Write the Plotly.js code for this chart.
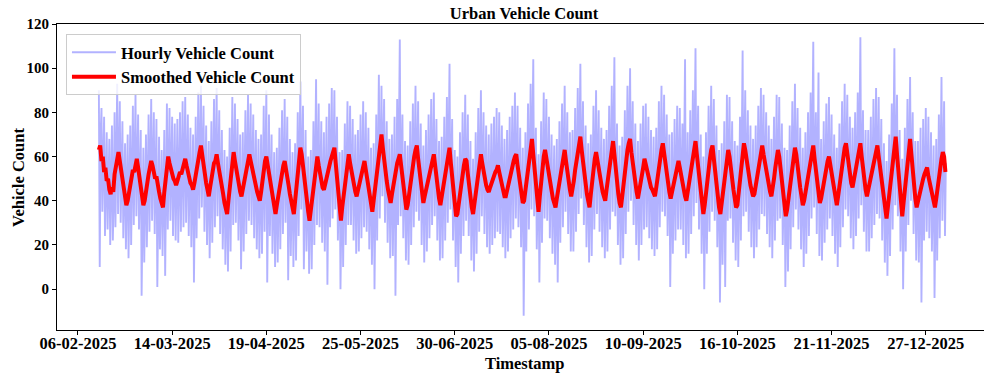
<!DOCTYPE html>
<html>
<head>
<meta charset="utf-8">
<script src="https://cdn.plot.ly/plotly-3.0.1.min.js"></script>
<style>
html,body{margin:0;padding:0;overflow:hidden;background:#ffffff;}
#chart{width:992px;height:376px;}
</style>
</head>
<body>
<div id="chart"></div>
<script>
// ---- data ----
const seriesStart = '2025-02-14';   // first timestamp of both series
const hourlyStepHours = 8;          // spacing of the hourly-count samples kept below
const smoothStepHours = 12;         // spacing of the smoothed samples kept below

const hourlyCounts = [
 90,10,70, 82,35,66, 78,24,60, 71,27,55, 68,20,50, 74,22,41, 80,28,58, 93,34,63,
 85,30,52, 76,23,57, 66,18,48, 70,14,45, 74,20,53, 83,29,50, 88,33,64, 79,27,60,
 72,-3,51, 64,12,44, 70,19,40, 79,26,57, 86,31,62, 80,25,48, 77,1,55, 69,18,49,
 63,15,46, 72,6,50, 84,27,60, 82,31,63, 78,24,47, 75,22,55, 77,21,52, 80,26,58,
 85,28,50, 87,30,64, 79,24,58, 73,19,53, 70,3,49, 78,23,57, 89,32,55, 92,37,70,
 83,26,61, 74,20,52, 67,14,47, 76,21,56, 86,28,51, 91,33,66, 81,25,59, 72,18,50,
 63,11,44, 60,8,39, 73,17,52, 87,29,62, 84,30,53, 77,22,56, 70,9,49, 71,17,50,
 81,25,58, 88,31,64, 84,29,52, 79,23,57, 72,18,51, 68,14,47, 70,16,49, 83,26,59,
 90,3,65, 79,24,47, 70,16,50, 62,10,42, 64,12,44, 73,18,51, 81,25,58, 86,30,63,
 78,4,56, 68,15,48, 62,10,42, 66,13,46, 80,24,57, 94,36,69, 83,9,60, 72,17,50,
 60,7,40, 63,9,42, 76,20,54, 95,29,62, 84,28,50, 76,21,55, 71,17,50, 78,2,56,
 84,28,61, 91,32,66, 90,36,58, 78,22,55, 62,0,42, 63,10,43, 75,20,53, 85,29,63,
 83,29,51, 77,22,55, 70,16,49, 72,17,51, 79,23,56, 85,28,62, 80,26,48, 73,18,52,
 64,11,43, 66,0,46, 79,22,55, 97,32,65, 92,42,64, 86,30,63, 76,21,54, 68,14,47,
 70,15,49, 78,-3,56, 86,29,62, 113,33,56, 79,23,56, 67,13,46, 65,11,43, 76,20,54,
 84,28,61, 92,35,68, 85,31,53, 75,20,53, 65,12,44, 72,17,50, 79,23,56, 86,29,62,
 89,33,55, 77,22,55, 67,13,46, 69,14,47, 78,22,55, 87,30,63, 102,36,58, 77,22,55,
 63,10,43, 60,3,39, 71,16,49, 80,24,57, 88,31,64, 79,24,47, 67,13,46, 59,8,39,
 71,16,49, 82,26,59, 90,33,55, 80,25,58, 74,19,52, 70,16,49, 75,20,53, 78,23,56,
 82,26,59, 80,25,48, 74,19,52, 68,14,47, 72,17,50, 78,23,56, 83,27,60, 89,32,65,
 83,28,50, 73,19,52, 64,-12,44, 71,17,50, 84,27,60, 93,36,69, 104,33,56, 73,18,51,
 61,3,40, 76,21,54, 89,32,65, 86,31,53, 78,23,56, 70,16,49, 65,11,44, 68,3,46,
 76,21,54, 84,28,61, 92,35,58, 80,25,58, 71,17,50, 72,17,50, 82,26,59, 91,34,67,
 102,41,64, 85,29,62, 74,19,52, 66,12,45, 70,15,48, 83,27,60, 90,34,57, 81,26,59,
 73,19,52, 68,14,47, 72,17,50, 83,27,60, 92,35,68, 105,33,56, 75,20,53, 65,11,44,
 69,14,47, 81,25,58, 92,35,68, 100,40,63, 85,29,62, 75,20,53, 67,13,46, 75,20,53,
 83,27,60, 84,28,51, 78,23,56, 72,18,51, 69,15,48, 73,18,51, 85,28,61, 92,35,68,
 88,33,56, 79,24,57, 70,1,49, 71,16,49, 77,22,55, 83,27,60, 82,27,50, 75,20,53,
 104,14,47, 71,16,49, 81,25,58, 90,33,66, 109,39,62, 83,27,60, 70,16,49, 60,0,39,
 71,16,49, 83,26,59, 92,35,68, 86,31,54, 74,19,52, 63,-6,42, 66,11,44, 76,1,54,
 88,31,64, 87,32,55, 76,21,54, 67,13,46, 65,10,43, 78,22,55, 108,33,66, 90,35,58,
 81,26,59, 74,19,52, 68,14,47, 74,19,52, 83,27,60, 91,34,67, 88,33,56, 80,25,58,
 74,19,52, 68,14,47, 78,22,55, 88,31,64, 87,32,55, 75,20,53, 64,1,43, 63,8,41,
 74,18,51, 85,28,61, 93,36,59, 82,27,60, 73,18,51, 64,10,43, 71,16,49, 80,24,57,
 89,32,65, 112,37,60, 80,25,58, 98,15,48, 68,13,46, 76,21,54, 84,27,60, 87,32,55,
 79,24,57, 70,16,49, 64,10,43, 75,19,52, 85,28,61, 93,36,69, 88,33,56, 78,23,56,
 73,18,51, 80,24,57, 89,32,65, 114,38,61, 81,26,59, 72,17,50, 72,17,50, 78,23,56,
 86,29,62, 91,34,67, 87,32,55, 77,22,55, 66,12,45, 58,6,37, 70,15,48, 84,27,60,
 109,38,71, 88,33,56, 72,17,50, 59,0,38, 73,17,50, 86,29,62, 96,40,63, 80,25,58,
 67,13,46, 67,12,45, 73,-6,51, 77,22,55, 82,26,59, 78,23,46, 71,17,50, 65,-4,44,
 68,13,46, 79,23,56, 96,31,64, 85,24,57
];

const smoothedCounts = [
 63,65,58,60,53,55,49,50,45,43, 46,44,52,55,58,62, 58,54,50,46,42,38, 40,44,47,50,54,53,57,59,
 55,51,46,42,38,40, 45,49,52,55,58, 56,53,50,51,46,44,41,39,37, 44,50,55,60, 57,54,52,50,49,47,
 49,51,53,52,55,57,59, 56,53,51,48,47,45, 48,52,56,60,62,65, 60,55,52,48,45,42, 46,50,53,57,58,61,
 57,54,50,47,43,39,36,34, 40,46,52,57,62, 58,54,50,47,44,42, 45,49,53,55,58,61, 58,55,51,49,46,44,42,40,
 44,49,54,58,60, 56,52,48,44,40,37,34, 38,42,46,49,53,56,58, 55,51,47,43,40,37,34, 40,46,52,58,64,
 61,55,50,45,40,35,31, 36,42,48,53,57,60, 56,52,49,46,45, 48,51,54,56,58,60,62,64, 57,50,43,37,31,
 37,42,48,53,57,61, 57,53,50,47,44,42, 45,48,51,54,56,58, 54,50,46,42,38,35, 40,45,50,55,60,65,70,
 64,58,53,49,45,42,39, 43,47,51,54,57,59,61, 56,51,46,41,36, 38,43,48,52,56,60,63,65, 59,53,48,43,39,
 42,45,48,51,54,57,59,61, 56,50,45,41,38, 42,46,50,54,58,61,64, 57,50,44,38,33, 34,39,44,48,52,56,59,
 58,52,46,41,37,34, 39,44,49,54,58,61, 57,53,50,47,45,44, 46,48,50,51,53,54,56, 53,50,47,44,42,
 42,45,48,51,53,55,58,60,61, 56,51,47,43,39, 40,45,50,55,60,64,68, 61,53,46,40,35, 42,49,55,60,63,
 59,55,51,48,44,41,39,37, 41,45,49,52,56,59,63, 58,53,49,45,42, 45,49,54,58,62,66,69, 63,57,52,47,43,40,37,
 43,50,55,59,62, 58,54,50,47,44,42,40, 45,50,55,59,63,67, 61,54,48,43,39,37, 42,48,53,58,63,66,68,
 62,57,52,48,44,41, 44,48,52,55,59, 56,53,51,48,46,45,43,42, 46,51,56,60,63,66, 61,56,52,48,44,41,
 44,47,50,53,55,58, 55,51,48,45,42,40, 44,49,53,57,61,64,67, 61,55,50,44,39,34, 38,44,49,54,59,63,65,
 59,53,47,42,37,34, 39,44,49,54,59,63, 60,54,49,45,41,37, 38,44,50,56,61,66, 63,58,54,51,47,44,42,
 43,47,51,55,59,62,65, 61,57,53,50,47,44,42, 45,50,55,59,63, 60,54,48,43,38,33, 36,41,46,51,56,60,64,
 61,55,50,46,42,38, 40,44,48,52,56,60,63,65, 59,53,48,43,39, 41,45,49,52,55,58,60, 56,52,48,44,41,38,
 42,47,51,56,60,64,66, 61,55,51,48,46, 49,52,56,60,63,66, 60,54,49,45,42, 45,48,51,54,57,60,62,65,
 60,55,50,45,40,36,32, 37,43,49,55,61,66,69, 61,53,45,38,33, 39,45,51,57,63,68, 61,53,46,41,37,
 40,43,46,48,50,52,54,55, 51,48,45,42,39,37, 41,46,51,55,59,62,60,53
];

const tickDates  = ['2025-02-06','2025-03-14','2025-04-19','2025-05-25','2025-06-30',
                    '2025-08-05','2025-09-10','2025-10-16','2025-11-21','2025-12-27'];
const tickLabels = ['06-02-2025','14-03-2025','19-04-2025','25-05-2025','30-06-2025',
                    '05-08-2025','10-09-2025','16-10-2025','21-11-2025','27-12-2025'];
const yTickValues = [0, 20, 40, 60, 80, 100, 120];
const xRange = ['2025-01-29 00:00', '2026-01-20 22:00'];
const yRange = [-18.5, 120];
const xTitle = 'Timestamp';
const yTitle = 'Vehicle Count';

// ---- build ----
const HOUR = 3600 * 1000;
const t0 = Date.parse(seriesStart);
const hourlyX = hourlyCounts.map((_, i) => t0 + i * hourlyStepHours * HOUR);
const smoothX = smoothedCounts.map((_, i) => t0 + i * smoothStepHours * HOUR);
const tickVals = tickDates.map(d => Date.parse(d));

const FONT = '"Liberation Serif", "Times New Roman", Times, serif';
const boldFont = (size) => ({family: FONT, size: size, color: '#000000', weight: 'bold'});

const traces = [
  {
    x: hourlyX, y: hourlyCounts, type: 'scatter', mode: 'lines',
    name: 'Hourly Vehicle Count', legendgroup: 'a',
    line: {color: 'rgba(0,0,255,0.3)', width: 1.9},
    hoverinfo: 'skip'
  },
  {
    x: smoothX, y: smoothedCounts, type: 'scatter', mode: 'lines',
    name: 'Smoothed Vehicle Count', legendgroup: 'b',
    line: {color: '#ff0000', width: 4},
    hoverinfo: 'skip'
  }
];

const layout = {
  width: 992, height: 376,
  margin: {l: 57, r: 1, t: 24, b: 46, pad: 0},
  paper_bgcolor: '#ffffff', plot_bgcolor: '#ffffff',
  title: {
    text: 'Urban Vehicle Count', font: boldFont(16.5),
    x: 0.5, xref: 'paper', xanchor: 'center',
    y: 0.965, yref: 'container', yanchor: 'middle'
  },
  showlegend: true,
  legend: {
    x: 0.0096, y: 0.967, xanchor: 'left', yanchor: 'top',
    bgcolor: 'rgba(255,255,255,0.8)', bordercolor: '#cccccc', borderwidth: 1,
    font: boldFont(16.5), traceorder: 'grouped', tracegroupgap: 0,
    itemwidth: 44
  },
  xaxis: {
    type: 'date', range: xRange,
    tickmode: 'array', tickvals: tickVals, ticktext: tickLabels,
    ticks: 'outside', ticklen: 4, tickwidth: 1, tickcolor: '#000000',
    ticklabelstandoff: -6,
    showline: true, linecolor: '#000000', linewidth: 1, mirror: true,
    showgrid: false, zeroline: false,
    tickfont: boldFont(16.5)
  },
  yaxis: {
    range: yRange, tickmode: 'array', tickvals: yTickValues,
    ticks: 'outside', ticklen: 4, tickwidth: 1, tickcolor: '#000000',
    showline: true, linecolor: '#000000', linewidth: 1, mirror: true,
    showgrid: false, zeroline: false,
    tickfont: boldFont(15)
  },
  annotations: [
    {text: xTitle, xref: 'paper', yref: 'paper', x: 0.5, y: -0.111,
     xanchor: 'center', yanchor: 'middle', showarrow: false, font: boldFont(16.5)},
    {text: yTitle, xref: 'paper', yref: 'paper', x: -0.0418, y: 0.5, textangle: -90,
     xanchor: 'center', yanchor: 'middle', showarrow: false, font: boldFont(16.5)}
  ]
};

Plotly.newPlot('chart', traces, layout, {displayModeBar: false, staticPlot: true});
</script>
</body>
</html>
